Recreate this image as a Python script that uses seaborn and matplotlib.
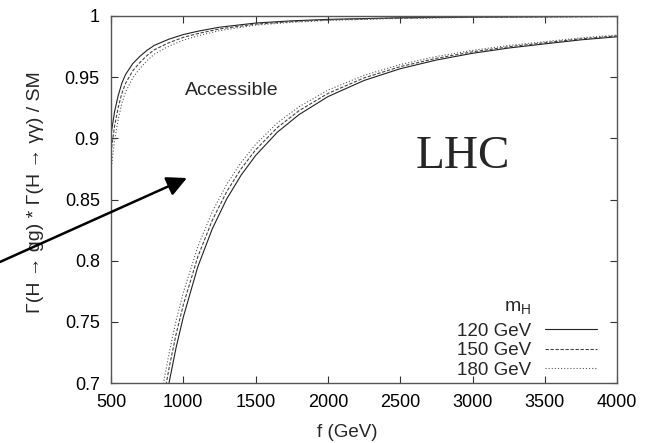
import matplotlib
matplotlib.use("Agg")
import matplotlib.pyplot as plt
import seaborn as sns
import pandas as pd

# ---------------- data ----------------
f_upper = [500, 525, 550, 575, 600, 650, 700, 750, 800, 900, 1000, 1100, 1250, 1500,
           1750, 2000, 2500, 3000, 3500, 4000]
upper_120 = [0.903, 0.922, 0.935, 0.945, 0.952, 0.961, 0.967, 0.972, 0.976, 0.981,
             0.9848, 0.9875, 0.9908, 0.9942, 0.996, 0.9972, 0.9985, 0.9991, 0.9994, 0.9996]
upper_150 = [0.8884, 0.9103, 0.9252, 0.9367, 0.9448, 0.9551, 0.962, 0.9678, 0.9724, 0.9781,
             0.9825, 0.9856, 0.9894, 0.9933, 0.9954, 0.9968, 0.9983, 0.999, 0.9993, 0.9995]
upper_180 = [0.874, 0.8986, 0.9155, 0.9285, 0.9376, 0.9493, 0.9571, 0.9636, 0.9688, 0.9753,
             0.9802, 0.9837, 0.988, 0.9925, 0.9948, 0.9964, 0.998, 0.9988, 0.9992, 0.9995]

f_lower = [850, 901, 950, 1000, 1100, 1200, 1300, 1400, 1500, 1650, 1800, 2000, 2250,
           2500, 2750, 3000, 3250, 3500, 3750, 4000]
lower_120 = [0.665, 0.700, 0.729, 0.754, 0.795, 0.826, 0.8505, 0.870, 0.886, 0.905,
             0.9194, 0.9341, 0.9473, 0.9569, 0.964, 0.9695, 0.9738, 0.9772, 0.9805, 0.983]
lower_150 = [0.6784, 0.712, 0.740, 0.764, 0.8032, 0.833, 0.8565, 0.8752, 0.8906, 0.9088,
             0.9226, 0.9367, 0.9494, 0.9586, 0.9654, 0.9707, 0.9748, 0.9781, 0.9813, 0.9837]
lower_180 = [0.692, 0.724, 0.751, 0.774, 0.8114, 0.840, 0.8625, 0.8804, 0.8951, 0.9126,
             0.9258, 0.9394, 0.9515, 0.9603, 0.9669, 0.9719, 0.9759, 0.979, 0.9821, 0.9844]

mass_labels = ["120 GeV", "150 GeV", "180 GeV"]
x_ticks = [500, 1000, 1500, 2000, 2500, 3000, 3500, 4000]
y_ticks = [0.7, 0.75, 0.8, 0.85, 0.9, 0.95, 1.0]
y_tick_labels = ["0.7", "0.75", "0.8", "0.85", "0.9", "0.95", "1"]

# ---------------- style ----------------
sns.set_style("ticks")
plt.rcParams["font.family"] = ["Liberation Sans", "DejaVu Sans"]

fig = plt.figure(figsize=(6.49, 4.43), dpi=100)
ax = fig.add_axes([0.171, 0.135, 0.780, 0.829])

styles = {
    "120 GeV": dict(color="#222222", linestyle="-", lw=0.8),
    "150 GeV": dict(color="#444444", linestyle=(0, (3, 1.5)), lw=0.8),
    "180 GeV": dict(color="#555555", linestyle=(0, (1, 1.8)), lw=0.8),
}

upper = {"120 GeV": upper_120, "150 GeV": upper_150, "180 GeV": upper_180}
lower = {"120 GeV": lower_120, "150 GeV": lower_150, "180 GeV": lower_180}

handles = []
for m in mass_labels:
    d_up = pd.DataFrame({"f": f_upper, "v": upper[m]})
    d_lo = pd.DataFrame({"f": f_lower, "v": lower[m]})
    sns.lineplot(data=d_up, x="f", y="v", ax=ax, sort=False, estimator=None, **styles[m])
    sns.lineplot(data=d_lo, x="f", y="v", ax=ax, sort=False, estimator=None, **styles[m])
    handles.append(ax.lines[-1])

ax.set_xlim(500, 4000)
ax.set_ylim(0.7, 1.0)
ax.set_xticks(x_ticks)
ax.set_xticklabels([str(t) for t in x_ticks], fontsize=13)
ax.set_yticks(y_ticks)
ax.set_yticklabels(y_tick_labels, fontsize=13)
ax.tick_params(direction="in", length=5, width=0.8, top=True, right=True,
               color="#333333", labelcolor="black")
ax.tick_params(axis="x", pad=8)
ax.tick_params(axis="y", pad=8)
for s in ax.spines.values():
    s.set_visible(True)
    s.set_color("#555555")
    s.set_linewidth(1.0)

ax.set_xlabel("f (GeV)", fontsize=13.5)
ax.set_ylabel("Γ(H → gg) * Γ(H → γγ) / SM", fontsize=14)
ax.xaxis.set_label_coords(0.466, -0.11)
ax.xaxis.label.set_verticalalignment("top")
ax.yaxis.set_label_coords(-0.132, 0.52)

# texts
ax.text(1012, 0.9395, "Accessible", fontsize=14, ha="left", va="center")
ax.text(2934, 0.8848, "LHC", fontsize=34, ha="center", va="center",
        family=["Liberation Serif", "DejaVu Serif"])

# arrow
ax.annotate("", xy=(1025, 0.8676), xytext=(-268, 0.799), xycoords="data",
            textcoords="data", annotation_clip=False,
            arrowprops=dict(arrowstyle="-|>", lw=1.8, color="black",
                            mutation_scale=30, shrinkA=0, shrinkB=0))

# legend (gnuplot style: label then sample)
leg = ax.legend(handles, mass_labels, loc="lower right", frameon=False,
                markerfirst=False, fontsize=13.5, handlelength=2.8,
                labelspacing=0.12, handletextpad=0.7, borderpad=0,
                bbox_to_anchor=(0.9605, 0.012), borderaxespad=0)
ax.text(0.830, 0.205, "m$_\\mathregular{H}$", transform=ax.transAxes,
        fontsize=14, ha="right", va="center")

fig.savefig("out.png", dpi=100)
